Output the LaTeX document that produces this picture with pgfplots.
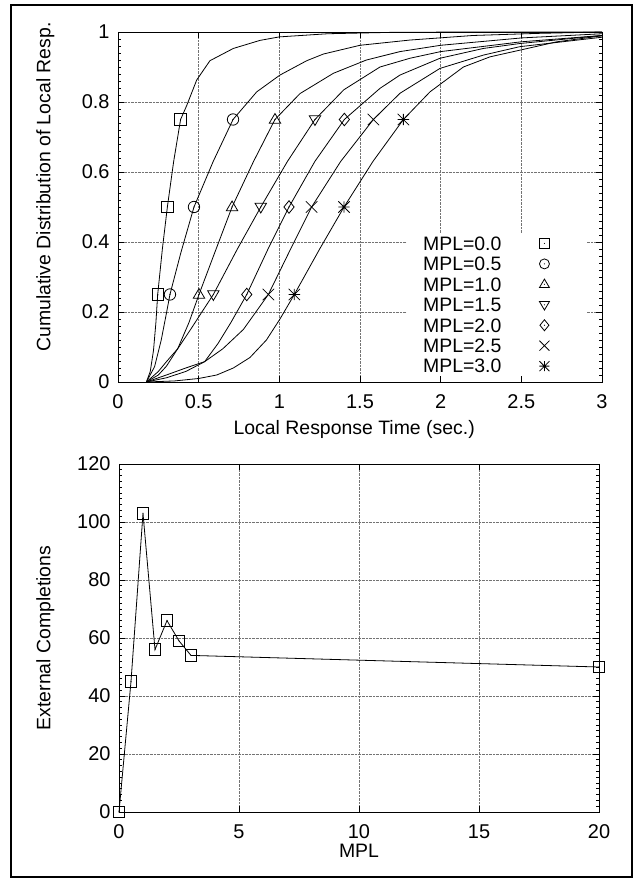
\documentclass[border=0pt]{standalone}
\usepackage{fontspec}
\setmainfont{Liberation Sans}
\usepackage{pgfplots}
\pgfplotsset{compat=1.18}

% gnuplot-like point types (with the small centre dot)
\pgfdeclareplotmark{gpsquare}{%
  \pgfpathrectangle{\pgfqpoint{-\pgfplotmarksize}{-\pgfplotmarksize}}{\pgfqpoint{2\pgfplotmarksize}{2\pgfplotmarksize}}%
  \pgfusepathqstroke
  \pgfpathcircle{\pgfpointorigin}{0.6pt}\pgfusepathqfill}
\pgfdeclareplotmark{gpcircle}{%
  \pgfpathcircle{\pgfpointorigin}{\pgfplotmarksize}\pgfusepathqstroke
  \pgfpathcircle{\pgfpointorigin}{0.6pt}\pgfusepathqfill}
\pgfdeclareplotmark{gptri}{%
  \pgfpathmoveto{\pgfqpoint{0pt}{1.05\pgfplotmarksize}}%
  \pgfpathlineto{\pgfqpoint{\pgfplotmarksize}{-0.65\pgfplotmarksize}}%
  \pgfpathlineto{\pgfqpoint{-\pgfplotmarksize}{-0.65\pgfplotmarksize}}%
  \pgfpathclose\pgfusepathqstroke
  \pgfpathcircle{\pgfpointorigin}{0.6pt}\pgfusepathqfill}
\pgfdeclareplotmark{gpdtri}{%
  \pgfpathmoveto{\pgfqpoint{0pt}{-1.05\pgfplotmarksize}}%
  \pgfpathlineto{\pgfqpoint{\pgfplotmarksize}{0.65\pgfplotmarksize}}%
  \pgfpathlineto{\pgfqpoint{-\pgfplotmarksize}{0.65\pgfplotmarksize}}%
  \pgfpathclose\pgfusepathqstroke
  \pgfpathcircle{\pgfpointorigin}{0.6pt}\pgfusepathqfill}
\pgfdeclareplotmark{gpdiamond}{%
  \pgfpathmoveto{\pgfqpoint{0pt}{1.1\pgfplotmarksize}}%
  \pgfpathlineto{\pgfqpoint{0.9\pgfplotmarksize}{0pt}}%
  \pgfpathlineto{\pgfqpoint{0pt}{-1.1\pgfplotmarksize}}%
  \pgfpathlineto{\pgfqpoint{-0.9\pgfplotmarksize}{0pt}}%
  \pgfpathclose\pgfusepathqstroke
  \pgfpathcircle{\pgfpointorigin}{0.6pt}\pgfusepathqfill}
\pgfdeclareplotmark{gpx}{%
  \pgfpathmoveto{\pgfqpoint{-\pgfplotmarksize}{-\pgfplotmarksize}}%
  \pgfpathlineto{\pgfqpoint{\pgfplotmarksize}{\pgfplotmarksize}}%
  \pgfpathmoveto{\pgfqpoint{-\pgfplotmarksize}{\pgfplotmarksize}}%
  \pgfpathlineto{\pgfqpoint{\pgfplotmarksize}{-\pgfplotmarksize}}%
  \pgfusepathqstroke}
\pgfdeclareplotmark{gpstar}{%
  \pgfpathmoveto{\pgfqpoint{-\pgfplotmarksize}{-\pgfplotmarksize}}%
  \pgfpathlineto{\pgfqpoint{\pgfplotmarksize}{\pgfplotmarksize}}%
  \pgfpathmoveto{\pgfqpoint{-\pgfplotmarksize}{\pgfplotmarksize}}%
  \pgfpathlineto{\pgfqpoint{\pgfplotmarksize}{-\pgfplotmarksize}}%
  \pgfpathmoveto{\pgfqpoint{-\pgfplotmarksize}{0pt}}%
  \pgfpathlineto{\pgfqpoint{\pgfplotmarksize}{0pt}}%
  \pgfpathmoveto{\pgfqpoint{0pt}{-\pgfplotmarksize}}%
  \pgfpathlineto{\pgfqpoint{0pt}{\pgfplotmarksize}}%
  \pgfusepathqstroke}

\pgfplotsset{
  gpaxis/.style={
    scale only axis,
    anchor=south west,
    font=\fontsize{19.5}{22}\selectfont,
    tick label style={font=\fontsize{20}{22}\selectfont},
    /pgf/number format/assume math mode=true,
    axis line style={line width=0.9bp},
    tick style={black, line width=0.7bp},
    major tick length=6bp,
    minor tick length=3bp,
    grid=major,
    grid style={densely dotted, black!55, line width=0.6bp},
    yticklabel style={xshift=-5bp},
    xticklabel style={yshift=-9bp},
    every axis plot/.append style={line width=0.8bp, black},
  },
  pts/.style={only marks, mark=#1, mark size=5.7bp, mark options={solid, fill=black}},
}

\begin{document}
\begin{tikzpicture}
\path[use as bounding box] (0,0) rectangle (638bp,880bp);
\draw[line width=1.5bp] (11bp,3bp) rectangle (632bp,875bp);

% ---- top: CDF of local response time ----
\begin{axis}[gpaxis,
    at={(118bp,498bp)}, width=484bp, height=350bp,
    xmin=0, xmax=3, ymin=0, ymax=1,
    xtick={0,0.5,1,1.5,2,2.5,3},
    ytick={0,0.2,0.4,0.6,0.8,1},
    minor y tick num=9,
    xlabel={Local Response Time (sec.)},
    ylabel={Cumulative Distribution of Local Resp.},
    xlabel style={at={(axis description cs:0.488,-0.106)}, anchor=north, inner sep=1bp},
    ylabel style={at={(axis description cs:-0.124,0.557)}, anchor=south},
    legend plot pos=right,
    legend cell align=right,
    legend image code/.code={%
      \path[draw=none, fill=none] (0bp,-5bp) rectangle (36bp,5bp);
      \draw[#1, mark size=5bp] plot coordinates {(8bp,0bp)};},
    legend style={at={(0.597,0.426)}, anchor=north west, fill=white, draw=none,
      inner xsep=15bp, inner ysep=2.5bp, row sep=4.75bp, column sep=34bp,
      nodes={inner sep=1bp, text height=13.7bp, text depth=0bp},
      font=\fontsize{19.5}{22}\selectfont},
]
% curves
\addplot[forget plot] coordinates {
  (0.176,0) (0.20,0.03) (0.22,0.09) (0.235,0.17) (0.246,0.25) (0.275,0.38)
  (0.306,0.50) (0.345,0.63) (0.388,0.75) (0.426,0.79) (0.488,0.863) (0.57,0.918)
  (0.715,0.953) (0.88,0.976) (1.00,0.986) (1.30,0.995) (1.70,0.999) (2.20,1.0) (3.00,1.0)};
\addplot[forget plot] coordinates {
  (0.176,0) (0.227,0.044) (0.268,0.12) (0.30,0.196) (0.322,0.25) (0.39,0.37)
  (0.471,0.50) (0.59,0.63) (0.713,0.75) (0.86,0.829) (1.004,0.877) (1.17,0.918)
  (1.273,0.937) (1.50,0.962) (1.81,0.977) (2.20,0.99) (2.60,0.996) (3.00,1.0)};
\addplot[forget plot] coordinates {
  (0.176,0) (0.25,0.02) (0.30,0.045) (0.37,0.095) (0.44,0.17) (0.502,0.25)
  (0.60,0.37) (0.707,0.50) (0.84,0.63) (0.973,0.75) (1.128,0.824) (1.335,0.882)
  (1.54,0.92) (1.748,0.944) (2.0,0.962) (2.5,0.983) (3.0,0.995)};
\addplot[forget plot] coordinates {
  (0.176,0) (0.25,0.03) (0.30,0.058) (0.37,0.095) (0.45,0.15) (0.52,0.20)
  (0.591,0.25) (0.74,0.38) (0.885,0.50) (1.05,0.63) (1.221,0.75) (1.40,0.835)
  (1.624,0.90) (1.81,0.925) (2.0,0.944) (2.5,0.972) (3.0,0.99)};
\addplot[forget plot] coordinates {
  (0.176,0) (0.30,0.012) (0.42,0.03) (0.537,0.058) (0.62,0.11) (0.70,0.17)
  (0.798,0.25) (0.93,0.38) (1.06,0.50) (1.22,0.63) (1.403,0.75) (1.624,0.839)
  (1.748,0.877) (1.996,0.925) (2.265,0.953) (2.49,0.967) (3.0,0.99)};
\addplot[forget plot] coordinates {
  (0.176,0) (0.30,0.02) (0.42,0.04) (0.537,0.058) (0.65,0.095) (0.777,0.15)
  (0.932,0.25) (1.07,0.38) (1.20,0.50) (1.38,0.63) (1.583,0.75) (1.748,0.825)
  (1.996,0.896) (2.265,0.934) (2.49,0.958) (3.0,0.985)};
\addplot[forget plot] coordinates {
  (0.176,0) (0.35,0.003) (0.50,0.01) (0.612,0.02) (0.715,0.04) (0.818,0.07)
  (0.92,0.12) (1.004,0.18) (1.093,0.25) (1.25,0.38) (1.401,0.50) (1.58,0.63)
  (1.769,0.75) (1.934,0.829) (2.141,0.90) (2.306,0.929) (2.50,0.949) (2.72,0.972) (3.0,0.989)};
% quartile points
\addplot[pts=gpsquare]  coordinates {(0.246,0.25) (0.306,0.5) (0.388,0.75)};
\addlegendentry{MPL=0.0}
\addplot[pts=gpcircle]  coordinates {(0.322,0.25) (0.471,0.5) (0.713,0.75)};
\addlegendentry{MPL=0.5}
\addplot[pts=gptri]     coordinates {(0.502,0.25) (0.707,0.5) (0.973,0.75)};
\addlegendentry{MPL=1.0}
\addplot[pts=gpdtri]    coordinates {(0.591,0.25) (0.885,0.5) (1.221,0.75)};
\addlegendentry{MPL=1.5}
\addplot[pts=gpdiamond] coordinates {(0.798,0.25) (1.06,0.5) (1.403,0.75)};
\addlegendentry{MPL=2.0}
\addplot[pts=gpx]       coordinates {(0.932,0.25) (1.20,0.5) (1.583,0.75)};
\addlegendentry{MPL=2.5}
\addplot[pts=gpstar]    coordinates {(1.093,0.25) (1.401,0.5) (1.769,0.75)};
\addlegendentry{MPL=3.0}
\end{axis}

% ---- bottom: external completions vs MPL ----
\begin{axis}[gpaxis,
    at={(119bp,68bp)}, width=480bp, height=348bp,
    xmin=0, xmax=20, ymin=0, ymax=120,
    xtick={0,5,10,15,20},
    ytick={0,20,40,60,80,100,120},
    minor y tick num=9,
    clip=false,
    xlabel={MPL},
    ylabel={External Completions},
    xlabel style={at={(axis description cs:0.5,-0.088)}, anchor=north, inner sep=1bp},
    ylabel style={at={(axis description cs:-0.127,0.5)}, anchor=south},
]
\addplot[mark=gpsquare, mark size=5.7bp, mark options={solid, fill=black}] coordinates {
  (0,0) (0.5,45) (1,103) (1.5,56) (2,66) (2.5,59) (3,54) (20,50)};
\end{axis}
\end{tikzpicture}
\end{document}
